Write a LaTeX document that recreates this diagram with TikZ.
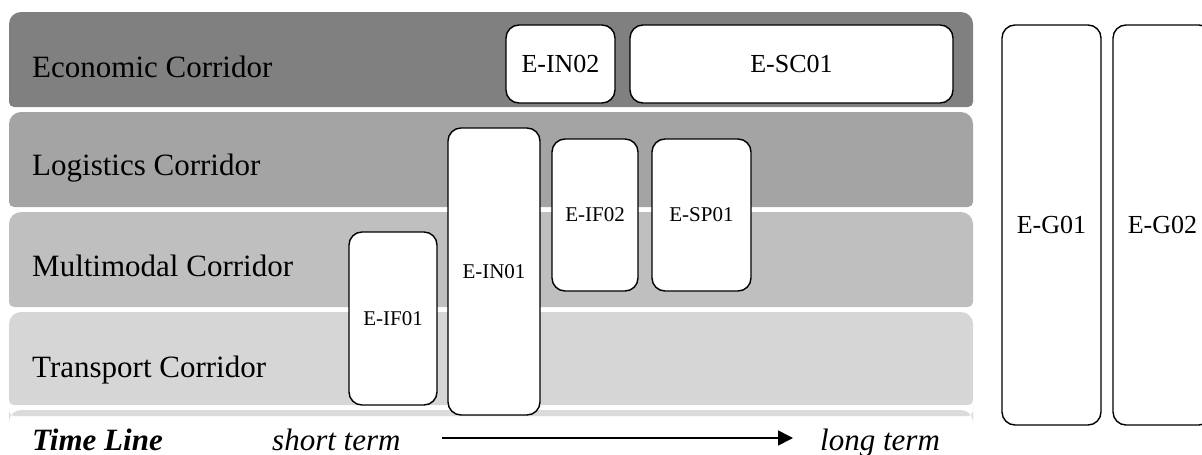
\documentclass[tikz,border=0pt]{standalone}
\usepackage{fontspec}
\setmainfont{Liberation Serif}
\usetikzlibrary{arrows.meta}

\definecolor{bandA}{gray}{0.50}
\definecolor{bandB}{gray}{0.645}
\definecolor{bandC}{gray}{0.75}
\definecolor{bandD}{gray}{0.84}
\definecolor{bandE}{gray}{0.86}

\tikzset{
  bandlabel/.style={anchor=base west, inner sep=0pt, font=\fontsize{31}{36}\selectfont},
  ebox/.style={draw=black, fill=white, line width=1.4pt, rounded corners=13pt,
               inner sep=0pt, font=\fontsize{26}{30}\selectfont},
  sbox/.style={ebox, font=\fontsize{21}{25}\selectfont},
  tltext/.style={anchor=base west, inner sep=0pt, font=\fontsize{31}{36}\selectfont\itshape},
  tlarrow/.style={line width=1.6pt, -{Triangle[length=15pt,width=15pt]}}
}

% a horizontal band: rounded top corners, tighter bottom corners
\newcommand{\corridorband}[4]{%
  \fill[#1] (9,{(#2+#3)/2}) [rounded corners=12pt] -- (9,#2) -- (#4,#2) -- (#4,{(#2+#3)/2})
        [rounded corners=5pt] -- (#4,#3) -- (9,#3) -- cycle;}

\begin{document}
\begin{tikzpicture}[x=1pt, y=-1pt]
  \useasboundingbox (0,0) rectangle (1202,455);
  \clip (0,0) rectangle (1202,455);

  % corridor bands
  \corridorband{bandA}{12}{107}{973}
  \corridorband{bandB}{112}{207}{973}
  \corridorband{bandC}{212}{307}{973}
  \corridorband{bandD}{312}{405}{973}
  \corridorband{bandE}{410}{416}{973}

  % band labels
  \node[bandlabel] (lEco) at (32,77)  {Economic Corridor};
  \node[bandlabel] (lLog) at (32,175) {Logistics Corridor};
  \node[bandlabel] (lMul) at (32,276) {Multimodal Corridor};
  \node[bandlabel] (lTra) at (32,377) {Transport Corridor};

  % measures
  \node[ebox, minimum width=109pt, minimum height=78pt]  (in02) at (560.5,64)   {E-IN02};
  \node[ebox, minimum width=323pt, minimum height=78pt]  (sc01) at (791.5,64)   {E-SC01};
  \node[sbox, minimum width=92pt,  minimum height=287pt] (in01) at (494,271.5)  {E-IN01};
  \node[sbox, minimum width=86pt,  minimum height=152pt] (if02) at (595,215)    {E-IF02};
  \node[sbox, minimum width=99pt,  minimum height=152pt] (sp01) at (701.5,215)  {E-SP01};
  \node[sbox, minimum width=88pt,  minimum height=173pt] (if01) at (393,318.5)  {E-IF01};
  \node[ebox, minimum width=99pt,  minimum height=400pt] (g01)  at (1051.5,225) {E-G01};
  \node[ebox, minimum width=99pt,  minimum height=400pt] (g02)  at (1162.5,225) {E-G02};

  % time line
  \node[tltext, font=\fontsize{31}{36}\selectfont\bfseries\itshape] (tl) at (32,450) {Time Line};
  \node[tltext] (st) at (272,450) {short term};
  \node[tltext] (lt) at (820,450) {long term};
  \coordinate (a0) at (442,438);
  \coordinate (a1) at (793,438);
  \draw[tlarrow] (a0) -- (a1);
\end{tikzpicture}
\end{document}
